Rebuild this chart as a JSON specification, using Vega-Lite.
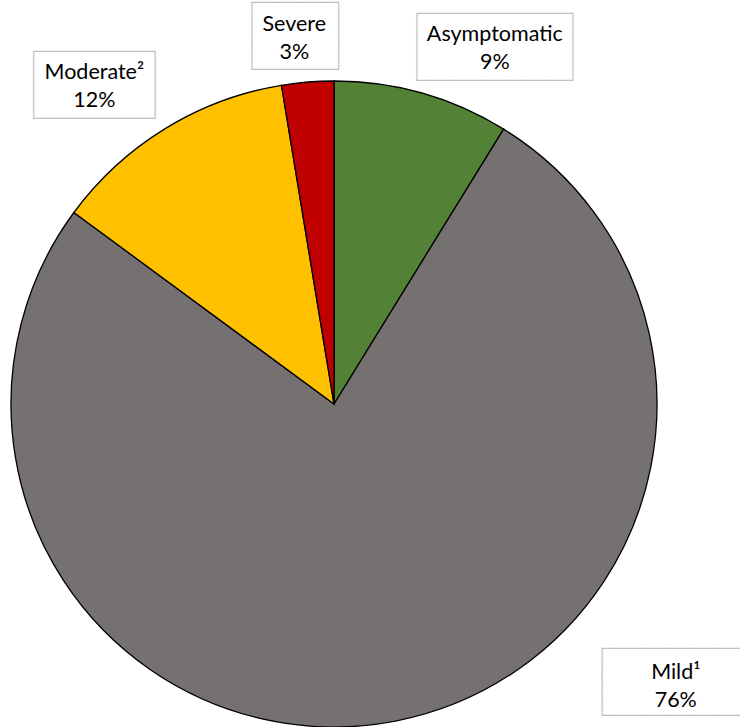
{
  "$schema": "https://vega.github.io/schema/vega-lite/v6.json",
  "autosize": "none",
  "width": 646,
  "height": 646,
  "padding": {"left": 11, "top": 81, "right": 83, "bottom": 0},
  "background": "white",
  "view": {"stroke": null},
  "data": {
    "values": [
      {"category": "Asymptomatic", "value": 8.8, "label": "Asymptomatic\n9%"},
      {"category": "Mild", "value": 76.3, "label": "Mild¹\n76%"},
      {"category": "Moderate", "value": 12.3, "label": "Moderate²\n12%"},
      {"category": "Severe", "value": 2.6, "label": "Severe\n3%"}
    ]
  },
  "encoding": {
    "theta": {"field": "value", "type": "quantitative", "stack": true}
  },
  "layer": [
    {
      "mark": {"type": "arc", "stroke": "black", "strokeWidth": 1.3},
      "encoding": {
        "color": {
          "field": "category",
          "type": "nominal",
          "scale": {
            "domain": ["Asymptomatic", "Mild", "Moderate", "Severe"],
            "range": ["#538135", "#767171", "#FFC000", "#C00000"]
          },
          "legend": null
        }
      }
    },
    {
      "mark": {"type": "text", "radius": 340, "dx": 68, "dy": -63, "font": "DejaVu Sans Mono", "fontSize": 14.4, "align": "center", "baseline": "middle", "lineHeight": 16.76, "color": "#BFBFBF"},
      "encoding": {
        "text": {"condition": {"test": "datum.category == 'Asymptomatic'", "value": ["┌─────────────────┐", "│\u00a0\u00a0\u00a0\u00a0\u00a0\u00a0\u00a0\u00a0\u00a0\u00a0\u00a0\u00a0\u00a0\u00a0\u00a0\u00a0\u00a0│", "│\u00a0\u00a0\u00a0\u00a0\u00a0\u00a0\u00a0\u00a0\u00a0\u00a0\u00a0\u00a0\u00a0\u00a0\u00a0\u00a0\u00a0│", "│\u00a0\u00a0\u00a0\u00a0\u00a0\u00a0\u00a0\u00a0\u00a0\u00a0\u00a0\u00a0\u00a0\u00a0\u00a0\u00a0\u00a0│", "└─────────────────┘"]}, "value": ""}
      }
    },
    {
      "mark": {"type": "text", "radius": 340, "dx": 277, "dy": -89, "font": "DejaVu Sans Mono", "fontSize": 14.4, "align": "center", "baseline": "middle", "lineHeight": 16.76, "color": "#BFBFBF"},
      "encoding": {
        "text": {"condition": {"test": "datum.category == 'Mild'", "value": ["┌────────────────┐", "│\u00a0\u00a0\u00a0\u00a0\u00a0\u00a0\u00a0\u00a0\u00a0\u00a0\u00a0\u00a0\u00a0\u00a0\u00a0\u00a0│", "│\u00a0\u00a0\u00a0\u00a0\u00a0\u00a0\u00a0\u00a0\u00a0\u00a0\u00a0\u00a0\u00a0\u00a0\u00a0\u00a0│", "│\u00a0\u00a0\u00a0\u00a0\u00a0\u00a0\u00a0\u00a0\u00a0\u00a0\u00a0\u00a0\u00a0\u00a0\u00a0\u00a0│", "└────────────────┘"]}, "value": ""}
      }
    },
    {
      "mark": {"type": "text", "radius": 340, "dx": -62, "dy": -62, "font": "DejaVu Sans Mono", "fontSize": 14.4, "align": "center", "baseline": "middle", "lineHeight": 16.76, "color": "#BFBFBF"},
      "encoding": {
        "text": {"condition": {"test": "datum.category == 'Moderate'", "value": ["┌─────────────┐", "│\u00a0\u00a0\u00a0\u00a0\u00a0\u00a0\u00a0\u00a0\u00a0\u00a0\u00a0\u00a0\u00a0│", "│\u00a0\u00a0\u00a0\u00a0\u00a0\u00a0\u00a0\u00a0\u00a0\u00a0\u00a0\u00a0\u00a0│", "│\u00a0\u00a0\u00a0\u00a0\u00a0\u00a0\u00a0\u00a0\u00a0\u00a0\u00a0\u00a0\u00a0│", "└─────────────┘"]}, "value": ""}
      }
    },
    {
      "mark": {"type": "text", "radius": 340, "dx": -11, "dy": -62, "font": "DejaVu Sans Mono", "fontSize": 14.4, "align": "center", "baseline": "middle", "lineHeight": 16.76, "color": "#BFBFBF"},
      "encoding": {
        "text": {"condition": {"test": "datum.category == 'Severe'", "value": ["┌─────────┐", "│\u00a0\u00a0\u00a0\u00a0\u00a0\u00a0\u00a0\u00a0\u00a0│", "│\u00a0\u00a0\u00a0\u00a0\u00a0\u00a0\u00a0\u00a0\u00a0│", "│\u00a0\u00a0\u00a0\u00a0\u00a0\u00a0\u00a0\u00a0\u00a0│", "└─────────┘"]}, "value": ""}
      }
    },
    {
      "mark": {"type": "text", "radius": 340, "dx": 68, "dy": -42, "font": "Lato", "fontSize": 21.5, "align": "center", "baseline": "middle", "lineBreak": "\n", "lineHeight": 28, "color": "black"},
      "encoding": {
        "text": {"condition": {"test": "datum.category == 'Asymptomatic'", "field": "label"}, "value": ""}
      }
    },
    {
      "mark": {"type": "text", "radius": 340, "dx": 277, "dy": -65, "font": "Lato", "fontSize": 21.5, "align": "center", "baseline": "middle", "lineBreak": "\n", "lineHeight": 28, "color": "black"},
      "encoding": {
        "text": {"condition": {"test": "datum.category == 'Mild'", "field": "label"}, "value": ""}
      }
    },
    {
      "mark": {"type": "text", "radius": 340, "dx": -62, "dy": -41, "font": "Lato", "fontSize": 21.5, "align": "center", "baseline": "middle", "lineBreak": "\n", "lineHeight": 28, "color": "black"},
      "encoding": {
        "text": {"condition": {"test": "datum.category == 'Moderate'", "field": "label"}, "value": ""}
      }
    },
    {
      "mark": {"type": "text", "radius": 340, "dx": -12, "dy": -40, "font": "Lato", "fontSize": 21.5, "align": "center", "baseline": "middle", "lineBreak": "\n", "lineHeight": 28, "color": "black"},
      "encoding": {
        "text": {"condition": {"test": "datum.category == 'Severe'", "field": "label"}, "value": ""}
      }
    }
  ]
}
